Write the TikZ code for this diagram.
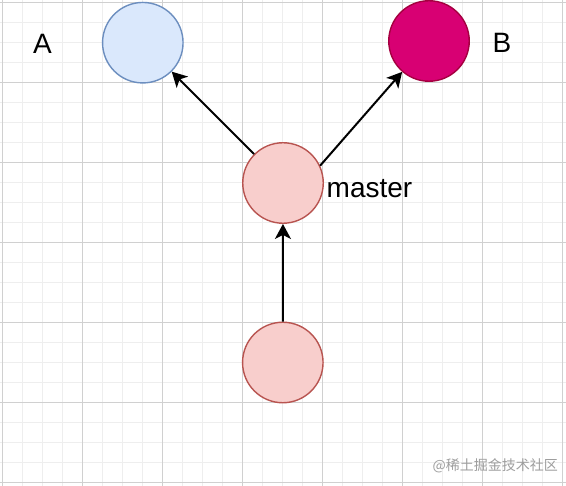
\documentclass[tikz,border=0pt]{standalone}
\usepackage{fontspec}
\setmainfont{Liberation Sans}
\newfontfamily\cjkfont{Noto Sans CJK SC}
\usetikzlibrary{arrows.meta}
\definecolor{minorgrid}{HTML}{EEEEEE}
\definecolor{majorgrid}{HTML}{D0D0D0}
\definecolor{bluefill}{HTML}{DAE8FC}
\definecolor{bluedraw}{HTML}{6C8EBF}
\definecolor{pinkfill}{HTML}{F8CECC}
\definecolor{pinkdraw}{HTML}{B85450}
\definecolor{magfill}{HTML}{D80073}
\definecolor{magdraw}{HTML}{A50040}
\definecolor{wmgray}{HTML}{9E9E9E}
\tikzset{
  commit/.style={circle, minimum size=80.5pt, inner sep=0pt, line width=1.4pt},
  bluecommit/.style={commit, fill=bluefill, draw=bluedraw},
  pinkcommit/.style={commit, fill=pinkfill, draw=pinkdraw},
  magcommit/.style={commit, fill=magfill, draw=magdraw},
  edge/.style={line width=2pt, -{Stealth[length=15pt, width=16pt, inset=4pt]}},
  lbl/.style={inner sep=0pt, font=\fontsize{28}{30}\selectfont},
}
\begin{document}
\begin{tikzpicture}[x=1pt, y=1pt]
\useasboundingbox (0,0) rectangle (566,486);
\fill[white] (0,0) rectangle (566,486);
% minor grid
\foreach \i in {0,...,28} {
  \draw[minorgrid, line width=0.8pt] ({2.5+20*\i},0) -- ({2.5+20*\i},486);
}
\foreach \j in {0,...,24} {
  \draw[minorgrid, line width=0.8pt] (0,{486-2.5-20*\j}) -- (566,{486-2.5-20*\j});
}
% major grid
\foreach \i in {0,...,7} {
  \draw[majorgrid, line width=0.9pt] ({2.5+80*\i},0) -- ({2.5+80*\i},486);
}
\foreach \j in {0,...,6} {
  \draw[majorgrid, line width=0.9pt] (0,{486-2.5-80*\j}) -- (566,{486-2.5-80*\j});
}
% commits
\node[bluecommit] (a) at (142.8,443.3) {};
\node[magcommit] (b) at (429,445) {};
\node[pinkcommit] (m) at (283,303) {};
\node[pinkcommit] (c) at (282.8,123.5) {};
% labels
\node[lbl] (la) at (42.5,442.5) {A};
\node[lbl] (lb) at (502,443.5) {B};
\node[lbl, anchor=base west] (lm) at (326.5,288.5) {master};
% edges
\draw[edge] (m) -- (a);
\draw[edge] (m.25) -- (b.229);
\draw[edge] (c) -- (m);
% watermark
\node[inner sep=0pt, text=wmgray, font=\cjkfont\fontsize{14}{16}\selectfont, anchor=east] (wm) at (558,20.3) {@稀土掘金技术社区};
\end{tikzpicture}
\end{document}
